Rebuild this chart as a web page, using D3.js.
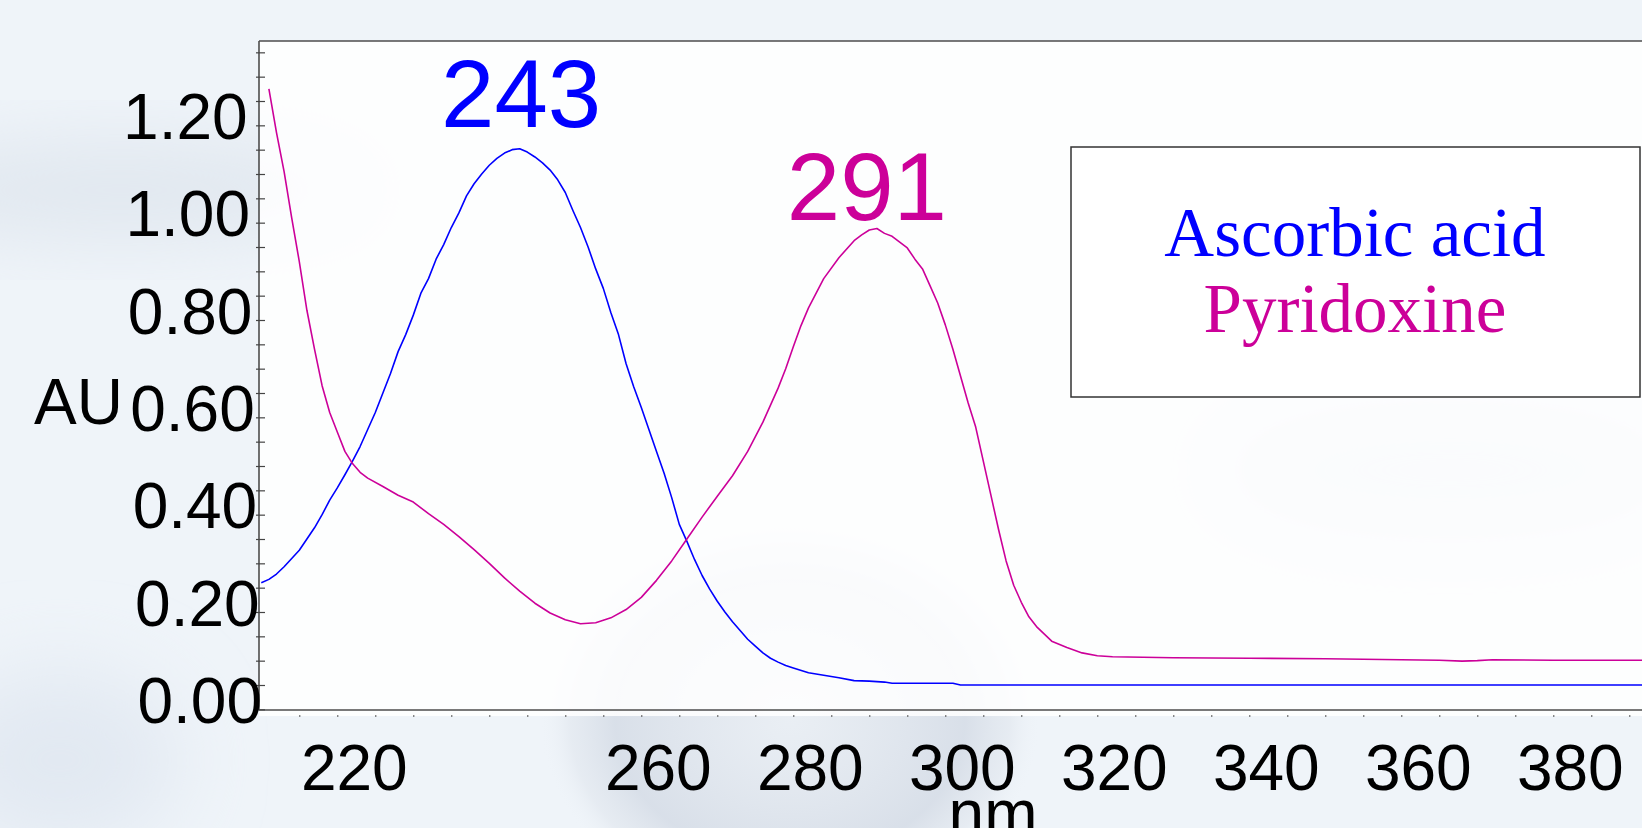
<!DOCTYPE html>
<html>
<head>
<meta charset="utf-8">
<script src="https://cdn.jsdelivr.net/npm/d3@7"></script>
<style>
  html, body { margin: 0; padding: 0; background: #eef3f8; overflow: hidden; }
  svg { display: block; }
</style>
</head>
<body>
<svg id="chart" width="1642" height="828"></svg>
<script>
// ---------------- DATA ----------------
const wavelengthTicks = d3.range(215, 395, 5);           // minor x ticks (nm)
const xTickLabels = [220, 260, 280, 300, 320, 340, 360, 380];
const yTickLabels = [0.00, 0.20, 0.40, 0.60, 0.80, 1.00, 1.20];
const yMinorTicks = d3.range(-1, 27).map(k => k * 0.05);

const seriesNames = ["Ascorbic acid", "Pyridoxine"];
const seriesColors = ["#0000ff", "#cc0099"];

// Ascorbic acid absorbance [nm, AU]
const ascorbicWl = [210,211,212,213,214,215,216,217,218,219,220,221,222,223,224,225,226,227,228,229,
  230,231,232,233,234,235,236,237,238,239,240,241,242,243,244,245,246,247,248,249,
  250,251,252,253,254,255,256,257,258,259,260,261,262,263,264,265,266,267,268,269,
  270,271,272,273,274,275,276,277,278,279,280,282,284,286,288,290,292,293,296,301,302,310,330,360,392];
const ascorbicAU = [0.210,0.217,0.228,0.243,0.260,0.277,0.300,0.323,0.350,0.380,0.405,0.432,0.460,0.490,0.525,0.560,0.600,0.640,0.685,0.720,
  0.760,0.805,0.835,0.875,0.905,0.940,0.970,1.005,1.030,1.050,1.068,1.082,1.093,1.100,1.102,1.095,1.085,1.073,1.058,1.038,
  1.012,0.975,0.940,0.900,0.855,0.815,0.765,0.720,0.660,0.613,0.570,0.525,0.480,0.435,0.385,0.330,0.295,0.258,0.225,0.197,
  0.172,0.150,0.130,0.112,0.094,0.080,0.066,0.055,0.047,0.040,0.035,0.025,0.020,0.015,0.009,0.008,0.006,0.0035,0.0035,0.0035,0.0,0.0,0.0,0.0,0.0];

// Pyridoxine absorbance [nm, AU]
const pyridoxineWl = [211,212,213,214,215,216,217,218,219,220,221,222,223,224,226,228,230,232,234,236,
  238,240,242,244,246,248,250,252,254,256,258,260,262,264,266,268,270,272,274,276,
  278,279,280,281,282,284,286,288,289,290,291,292,293,294,295,296,297,298,299,300,
  301,302,303,304,305,306,307,308,309,310,311,312,313,314,316,318,320,322,326,330,
  340,350,360,365,368,370,372,380,392];
const pyridoxineAU = [1.225,1.135,1.055,0.960,0.870,0.770,0.690,0.615,0.560,0.520,0.480,0.455,0.437,0.425,0.408,0.390,0.376,0.352,0.330,0.305,
  0.278,0.250,0.220,0.193,0.168,0.148,0.134,0.126,0.128,0.138,0.155,0.180,0.215,0.255,0.300,0.345,0.388,0.430,0.480,0.540,
  0.610,0.650,0.695,0.738,0.775,0.835,0.878,0.913,0.925,0.935,0.938,0.928,0.922,0.910,0.898,0.875,0.855,0.820,0.785,0.740,
  0.690,0.635,0.580,0.530,0.460,0.390,0.320,0.255,0.205,0.170,0.140,0.120,0.105,0.090,0.077,0.066,0.060,0.058,0.057,0.056,
  0.055,0.054,0.052,0.051,0.049,0.050,0.052,0.051,0.051];

const peakLabels = ["243", "291"];
const peakWl = [243, 291];
const peakAU = [1.102, 0.938];

// ---------------- LAYOUT ----------------
const svg = d3.select("#chart");
const W = 1642, H = 828;
const plotLeft = 259, plotTop = 41, plotBottom = 710, plotRight = 1700;

const x = d3.scaleLinear().domain([220, 390]).range([337.3, 1629.3]);
const y = d3.scaleLinear().domain([0, 1.2]).range([685, 101]);

const FONT = "'Liberation Sans', Arial, Helvetica, sans-serif";
const SERIF = "'Liberation Serif', 'Times New Roman', Times, serif";

// ---------------- BACKGROUND ----------------
const defs = svg.append("defs");
defs.append("filter").attr("id", "blur").attr("x", "-50%").attr("y", "-50%").attr("width", "200%").attr("height", "200%")
  .append("feGaussianBlur").attr("stdDeviation", 40);
const rg = defs.append("radialGradient").attr("id", "flask").attr("cx", "50%").attr("cy", "50%").attr("r", "50%");
rg.append("stop").attr("offset", "0%").attr("stop-color", "#e6ebf1").attr("stop-opacity", 0.6);
rg.append("stop").attr("offset", "70%").attr("stop-color", "#d6dde7").attr("stop-opacity", 0.9);
rg.append("stop").attr("offset", "88%").attr("stop-color", "#dde3eb").attr("stop-opacity", 0.5);
rg.append("stop").attr("offset", "100%").attr("stop-color", "#eef3f8").attr("stop-opacity", 0);

svg.append("rect").attr("width", W).attr("height", H).attr("fill", "#eff4f9");
const bg = svg.append("g");
bg.append("ellipse").attr("cx", 120).attr("cy", 190).attr("rx", 260).attr("ry", 45)
  .attr("fill", "#dfe6ee").attr("filter", "url(#blur)");
bg.append("ellipse").attr("cx", 790).attr("cy", 720).attr("rx", 250).attr("ry", 200)
  .attr("fill", "url(#flask)");
bg.append("ellipse").attr("cx", 1450).attr("cy", 470).attr("rx", 240).attr("ry", 70)
  .attr("fill", "#dde4ec").attr("filter", "url(#blur)");
bg.append("ellipse").attr("cx", 60).attr("cy", 760).attr("rx", 120).attr("ry", 90)
  .attr("fill", "#e2e9f2").attr("filter", "url(#blur)");

// plot area (semi-opaque white)
svg.append("rect").attr("x", plotLeft).attr("y", plotTop)
  .attr("width", plotRight - plotLeft).attr("height", plotBottom - plotTop + 6)
  .attr("fill", "#ffffff").attr("fill-opacity", 0.85);

// ---------------- FRAME & AXES ----------------
const frame = svg.append("g").attr("stroke", "#4d4d4d").attr("stroke-width", 1.6).attr("fill", "none");
frame.append("line").attr("x1", plotLeft).attr("x2", plotRight).attr("y1", plotTop).attr("y2", plotTop);
frame.append("line").attr("x1", plotLeft).attr("x2", plotLeft).attr("y1", plotTop).attr("y2", plotBottom);
frame.append("line").attr("x1", plotLeft).attr("x2", plotRight).attr("y1", plotBottom).attr("y2", plotBottom);

// y minor ticks via d3 axis
const yAxis = d3.axisLeft(y).tickValues(yMinorTicks).tickSize(3).tickFormat("");
const gy = svg.append("g").attr("transform", `translate(${plotLeft},0)`).call(yAxis);
gy.select(".domain").remove();
gy.selectAll(".tick line").attr("x1", -3).attr("x2", 6).attr("stroke", "#444").attr("stroke-width", 1.2);

// y labels (offset slightly below their ticks, drifting left toward the top, as in the reference)
svg.append("g").selectAll("text").data(yTickLabels).join("text")
  .attr("x", d => 262 - d * 12).attr("y", d => y(d) + 38)
  .attr("text-anchor", "end")
  .attr("font-family", FONT).attr("font-size", 64).attr("fill", "#000")
  .text(d => d3.format(".2f")(d));

svg.append("text").attr("x", 34).attr("y", 424)
  .attr("font-family", FONT).attr("font-size", 64).attr("fill", "#000").text("AU");

// x minor ticks via d3 axis
const xAxis = d3.axisBottom(x).tickValues(wavelengthTicks).tickSize(2).tickFormat("");
const gx = svg.append("g").attr("transform", `translate(0,${plotBottom + 5})`).call(xAxis);
gx.select(".domain").remove();
gx.selectAll(".tick line").attr("stroke", "#555").attr("stroke-width", 1);

svg.append("g").selectAll("text").data(xTickLabels).join("text")
  .attr("x", d => x(d) + 17).attr("y", 790)
  .attr("text-anchor", "middle")
  .attr("font-family", FONT).attr("font-size", 64).attr("fill", "#000")
  .text(d => d);

svg.append("text").attr("x", 993).attr("y", 835).attr("text-anchor", "middle")
  .attr("font-family", FONT).attr("font-size", 64).attr("fill", "#000").text("nm");

// ---------------- CURVES ----------------
const line = d3.line().x(d => x(d[0])).y(d => y(d[1]));
const curves = [d3.zip(ascorbicWl, ascorbicAU), d3.zip(pyridoxineWl, pyridoxineAU)];
svg.append("defs").append("clipPath").attr("id", "clip")
  .append("rect").attr("x", plotLeft).attr("y", plotTop).attr("width", plotRight - plotLeft).attr("height", plotBottom - plotTop);
svg.append("g").attr("clip-path", "url(#clip)").selectAll("path").data(curves).join("path")
  .attr("d", line)
  .attr("fill", "none")
  .attr("stroke", (d, i) => seriesColors[i])
  .attr("stroke-width", 1.6)
  .attr("stroke-linejoin", "round");

// ---------------- PEAK LABELS ----------------
const peakDx = [9, -10], peakDy = [-22, -9];
svg.append("g").selectAll("text").data(peakLabels).join("text")
  .attr("x", (d, i) => x(peakWl[i]) + peakDx[i])
  .attr("y", (d, i) => y(peakAU[i]) + peakDy[i])
  .attr("text-anchor", "middle")
  .attr("font-family", FONT).attr("font-size", 96)
  .attr("fill", (d, i) => seriesColors[i])
  .text(d => d);

// ---------------- LEGEND ----------------
const lg = svg.append("g");
lg.append("rect").attr("x", 1071).attr("y", 147).attr("width", 569).attr("height", 250)
  .attr("fill", "#ffffff").attr("stroke", "#333").attr("stroke-width", 1.5);
lg.selectAll("text").data(seriesNames).join("text")
  .attr("x", 1355).attr("y", (d, i) => 256 + i * 76)
  .attr("text-anchor", "middle")
  .attr("font-family", SERIF).attr("font-size", 69)
  .attr("fill", (d, i) => seriesColors[i])
  .text(d => d);
</script>
</body>
</html>
